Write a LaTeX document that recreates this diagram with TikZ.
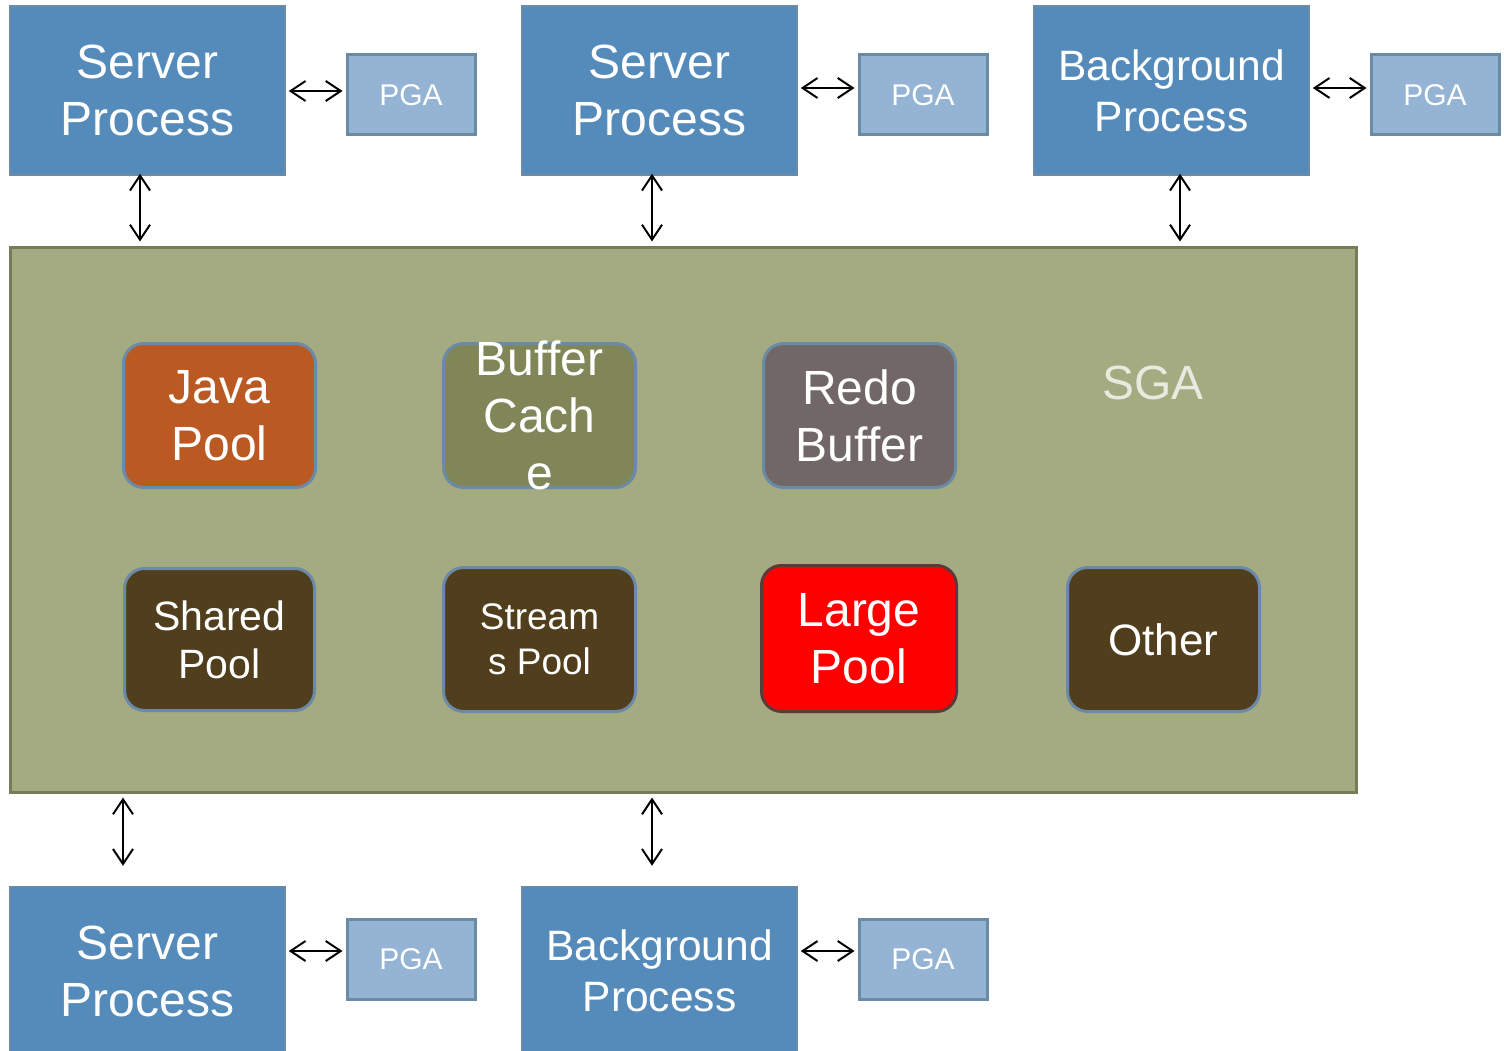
\documentclass[tikz,border=0pt]{standalone}
\usepackage{fontspec}
\setmainfont{Liberation Sans}
\usetikzlibrary{arrows.meta}
\definecolor{procfill}{HTML}{558BBA}
\definecolor{procdraw}{HTML}{6D8BA3}
\definecolor{pgafill}{HTML}{95B3D3}
\definecolor{pgadraw}{HTML}{6B8AA5}
\definecolor{sgafill}{HTML}{A4AB80}
\definecolor{sgadraw}{HTML}{767C57}
\definecolor{pooldraw}{HTML}{6B8AA8}
\definecolor{javafill}{HTML}{BA5A22}
\definecolor{bcfill}{HTML}{818659}
\definecolor{redofill}{HTML}{716766}
\definecolor{brownfill}{HTML}{503E1C}
\definecolor{sgatext}{HTML}{E8EAE0}
\definecolor{largedraw}{HTML}{5A3A3A}
\begin{document}
\begin{tikzpicture}[x=1pt,y=-1pt,
  proc/.style={draw=procdraw,line width=1.5pt,fill=procfill,minimum width=275pt,minimum height=169pt,inner sep=0pt,text=white,align=center},
  pga/.style={draw=pgadraw,line width=3pt,fill=pgafill,minimum width=128pt,minimum height=80pt,inner sep=0pt,text=white,font=\fontsize{30}{36}\selectfont},
  pool/.style={draw=pooldraw,line width=3pt,rounded corners=20pt,minimum width=192pt,minimum height=144pt,inner sep=0pt,text=white,align=center},
  lbl/.style={text=white,align=center,inner sep=0pt},
  big/.style={font=\fontsize{48}{57}\selectfont},
  bg/.style={font=\fontsize{42.5}{51}\selectfont},
  link/.style={line width=2pt,{Straight Barb[length=15pt,width=20pt,line width=2pt]}-{Straight Barb[length=15pt,width=20pt,line width=2pt]}}
]
\useasboundingbox (0,0) rectangle (1504,1051);

% SGA area
\node[draw=sgadraw,line width=3pt,fill=sgafill,minimum width=1346pt,minimum height=545pt,inner sep=0pt] (sga) at (683,519.5) {};
\node[text=sgatext,font=\fontsize{48}{57}\selectfont,inner sep=0pt] (sgalabel) at (1153,383) {SGA};

% processes top
\node[proc,big] (sp1) at (147.5,90.5) {Server\\Process};
\node[proc,big] (sp2) at (659.5,90.5) {Server\\Process};
\node[proc,bg] (bp1) at (1171.5,90.5) {Background\\Process};
\node[pga] (pga1) at (411,95) {PGA};
\node[pga] (pga2) at (923,95) {PGA};
\node[pga] (pga3) at (1435,95) {PGA};

% processes bottom
\node[proc,big] (sp3) at (147.5,971) {Server\\Process};
\node[proc,bg] (bp2) at (659.5,971) {Background\\Process};
\node[pga] (pga4) at (411,959) {PGA};
\node[pga] (pga5) at (923,959) {PGA};

% pools
\node[pool,fill=javafill,big] (java) at (219.5,415.5) {Java\\Pool};
\node[pool,fill=bcfill] (bc) at (539.5,415.5) {};
\node[lbl,big] (bctext) at (bc.center) {Buffer\\Cach\\e};
\node[pool,fill=redofill,big] (redo) at (859.5,415.5) {Redo\\Buffer};
\node[pool,fill=brownfill,minimum width=190pt,minimum height=142pt,font=\fontsize{41}{48}\selectfont] (shared) at (219.5,639.5) {Shared\\Pool};
\node[pool,fill=brownfill,font=\fontsize{37}{45}\selectfont] (streams) at (539.5,639.5) {Stream\\s Pool};
\node[pool,fill=red,draw=largedraw,minimum width=195pt,minimum height=146pt,big] (large) at (859,638.5) {Large\\Pool};
\node[pool,fill=brownfill,font=\fontsize{44}{52}\selectfont] (other) at (1163.5,639.5) {Other};

% column coordinates
\coordinate (c140) at (140,0);
\coordinate (c652) at (652,0);
\coordinate (c1180) at (1180,0);
\coordinate (c123) at (123,0);

% horizontal links
\draw[link,shorten <=3pt,shorten >=3pt] ([yshift=-0.5pt]sp1.east) -- ([yshift=-0.5pt]sp1.east -| pga1.west);
\draw[link,shorten <=3pt,shorten >=3pt] ([yshift=2.5pt]sp2.east) -- ([yshift=2.5pt]sp2.east -| pga2.west);
\draw[link,shorten <=3pt,shorten >=3pt] ([yshift=2.5pt]bp1.east) -- ([yshift=2.5pt]bp1.east -| pga3.west);
\draw[link,shorten <=3pt,shorten >=3pt] ([yshift=8pt]pga4.west -| sp3.east) -- ([yshift=8pt]pga4.west);
\draw[link,shorten <=3pt,shorten >=3pt] ([yshift=8pt]pga5.west -| bp2.east) -- ([yshift=8pt]pga5.west);

% vertical links
\draw[link,shorten <=-2pt,shorten >=4pt] (sp1.south -| c140) -- (sga.north -| c140);
\draw[link,shorten <=-2pt,shorten >=4pt] (sp2.south -| c652) -- (sga.north -| c652);
\draw[link,shorten <=-2pt,shorten >=4pt] (bp1.south -| c1180) -- (sga.north -| c1180);
\draw[link,shorten <=4pt,shorten >=20pt] (sga.south -| c123) -- (sp3.north -| c123);
\draw[link,shorten <=4pt,shorten >=20pt] (sga.south -| c652) -- (bp2.north -| c652);
\end{tikzpicture}
\end{document}
